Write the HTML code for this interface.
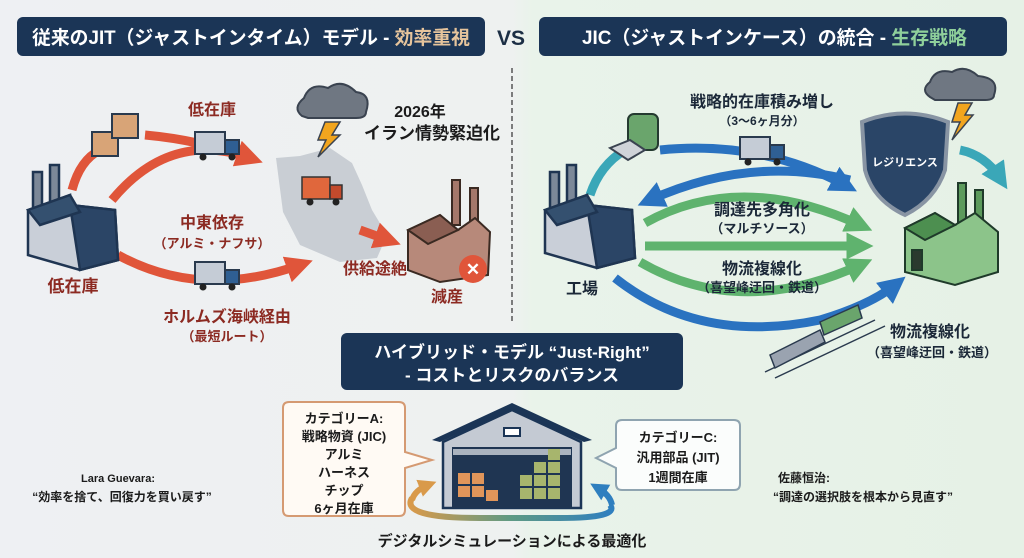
<!DOCTYPE html>
<html><head><meta charset="utf-8"><style>
html,body{margin:0;padding:0;width:1024px;height:558px;overflow:hidden;background:#eef0f2}
svg{display:block}
text{font-family:"Liberation Sans","Noto Sans CJK JP",sans-serif;font-weight:bold}
</style></head><body>
<svg width="1024" height="558" viewBox="0 0 1024 558" xmlns="http://www.w3.org/2000/svg">
<defs>
<linearGradient id="bg" x1="0" x2="1"><stop offset="0" stop-color="#eef0f3"/><stop offset="0.5" stop-color="#eef1f0"/><stop offset="0.52" stop-color="#e9f3ea"/><stop offset="1" stop-color="#e6f1e6"/></linearGradient>
<linearGradient id="loop" x1="0" x2="1"><stop offset="0" stop-color="#d99a4a"/><stop offset="0.5" stop-color="#5f9a84"/><stop offset="1" stop-color="#2f7fbf"/></linearGradient>
<marker id="ar" viewBox="0 0 10 10" refX="5" refY="5" markerWidth="3" markerHeight="3" orient="auto"><path d="M0,0L10,5L0,10z" fill="#e0553a"/></marker>
<marker id="ab" viewBox="0 0 10 10" refX="5" refY="5" markerWidth="3" markerHeight="3" orient="auto"><path d="M0,0L10,5L0,10z" fill="#2a72c0"/></marker>
<marker id="ag" viewBox="0 0 10 10" refX="5" refY="5" markerWidth="3" markerHeight="3" orient="auto"><path d="M0,0L10,5L0,10z" fill="#5fb36e"/></marker>
<marker id="at" viewBox="0 0 10 10" refX="5" refY="5" markerWidth="3" markerHeight="3" orient="auto"><path d="M0,0L10,5L0,10z" fill="#3aa7b8"/></marker>
<marker id="lo" viewBox="0 0 10 10" refX="5" refY="5" markerWidth="3" markerHeight="3" orient="auto"><path d="M0,0L10,5L0,10z" fill="#d99a4a"/></marker>
<marker id="lb" viewBox="0 0 10 10" refX="5" refY="5" markerWidth="3" markerHeight="3" orient="auto"><path d="M0,0L10,5L0,10z" fill="#2f7fbf"/></marker>
</defs>
<rect width="1024" height="558" fill="url(#bg)"/>
<line x1="512" y1="68" x2="512" y2="322" stroke="#555" stroke-width="1.5" stroke-dasharray="5,3"/>

<!-- titles -->
<rect x="17" y="17" width="468" height="39" rx="6" fill="#1b3556"/>
<text x="32" y="44" font-size="19" fill="#fff" textLength="438" lengthAdjust="spacingAndGlyphs">従来のJIT（ジャストインタイム）モデル - <tspan fill="#e6c49c">効率重視</tspan></text>
<text x="497" y="45" font-size="21" fill="#1b2e44">VS</text>
<rect x="539" y="17" width="468" height="39" rx="6" fill="#1b3556"/>
<text x="582" y="44" font-size="19" fill="#fff" textLength="385" lengthAdjust="spacingAndGlyphs">JIC（ジャストインケース）の統合 - <tspan fill="#8fd09b">生存戦略</tspan></text>

<!-- LEFT side -->
<path d="M276,158 L300,156 L330,148 L352,163 L362,185 L372,210 L387,235 L377,258 L340,262 L300,245 L283,212 Z" fill="#c9ced4"/>
<g fill="none" stroke="#e0553a" stroke-width="9">
<path d="M72,190 Q80,160 100,150"/>
<path d="M112,200 Q170,130 250,158" marker-end="url(#ar)"/>
<path d="M145,135 Q200,140 250,158"/>
<path d="M118,255 Q200,300 300,265" marker-end="url(#ar)"/>
<path d="M360,230 L388,240" marker-end="url(#ar)"/>
</g>
<!-- boxes -->
<rect x="92" y="132" width="26" height="24" fill="#d8a477" stroke="#2a3a4e" stroke-width="2"/>
<rect x="112" y="114" width="26" height="24" fill="#d8a477" stroke="#2a3a4e" stroke-width="2"/>
<!-- factory left -->
<g stroke="#1f3552" stroke-width="2.5">
<rect x="33" y="172" width="9" height="40" fill="#7c8898"/><rect x="50" y="165" width="9" height="45" fill="#7c8898"/>
<polygon points="28,210 70,195 70,205 115,210 118,260 80,270 28,255" fill="#c9cfd8"/>
<polygon points="70,205 115,210 118,260 80,270" fill="#2b4566"/>
<polygon points="28,210 70,195 80,212 40,225" fill="#34506f"/>
</g>
<text x="73" y="292" font-size="17" fill="#8c2a22" text-anchor="middle">低在庫</text>
<!-- trucks -->
<g><rect x="195" y="132" width="30" height="22" fill="#c5ccd6" stroke="#2a3a4e" stroke-width="2"/><rect x="225" y="140" width="14" height="14" fill="#2f5f93" stroke="#2a3a4e" stroke-width="2"/><circle cx="203" cy="157" r="3.5" fill="#222"/><circle cx="232" cy="157" r="3.5" fill="#222"/></g>
<g><rect x="195" y="262" width="30" height="22" fill="#c5ccd6" stroke="#2a3a4e" stroke-width="2"/><rect x="225" y="270" width="14" height="14" fill="#2f5f93" stroke="#2a3a4e" stroke-width="2"/><circle cx="203" cy="287" r="3.5" fill="#222"/><circle cx="232" cy="287" r="3.5" fill="#222"/></g>
<text x="212" y="115" font-size="16" fill="#8c2a22" text-anchor="middle">低在庫</text>
<text x="212" y="228" font-size="16" fill="#8c2a22" text-anchor="middle">中東依存</text>
<text x="212" y="248" font-size="13" fill="#8c2a22" text-anchor="middle">（アルミ・ナフサ）</text>
<text x="227" y="322" font-size="16" fill="#8c2a22" text-anchor="middle">ホルムズ海峡経由</text>
<text x="227" y="341" font-size="13" fill="#8c2a22" text-anchor="middle">（最短ルート）</text>
<rect x="302" y="177" width="28" height="22" fill="#e0673c" stroke="#333" stroke-width="1.5"/><rect x="330" y="185" width="12" height="14" fill="#c34a2c" stroke="#333" stroke-width="1.5"/>
<circle cx="310" cy="202" r="3.5" fill="#222"/><circle cx="336" cy="202" r="3.5" fill="#222"/>
<!-- cloud -->
<path d="M302,116 Q292,108 304,98 Q310,82 328,88 Q342,78 356,92 Q372,94 366,112 Q366,118 356,118 L308,118 Z" fill="#6f7782" stroke="#3a4350" stroke-width="2"/>
<polygon points="325,122 340,122 332,135 340,135 318,157 326,140 318,140" fill="#f2a51e" stroke="#3a4350" stroke-width="1.5"/>
<text x="420" y="117" font-size="16" fill="#1b1b1b" text-anchor="middle">2026年</text>
<text x="432" y="139" font-size="17" fill="#1b1b1b" text-anchor="middle">イラン情勢緊迫化</text>
<!-- brown factory -->
<g stroke="#3a2a22" stroke-width="2">
<rect x="452" y="180" width="8" height="45" fill="#a5786a"/><rect x="470" y="188" width="8" height="40" fill="#a5786a"/>
<polygon points="408,230 440,215 458,230 475,218 490,232 488,275 440,282 408,270" fill="#b7897a"/>
<polygon points="408,230 440,215 458,230 428,244" fill="#8a5e52"/>
</g>
<circle cx="473" cy="269" r="14" fill="#e0553a"/>
<text x="473" y="275" font-size="17" fill="#fff" text-anchor="middle" font-weight="normal">✕</text>
<text x="375" y="274" font-size="16" fill="#8c2a22" text-anchor="middle">供給途絶</text>
<text x="447" y="302" font-size="16" fill="#8c2a22" text-anchor="middle">減産</text>

<!-- RIGHT side -->
<g fill="none" stroke-width="9">
<path d="M590,195 Q600,165 625,150" stroke="#3aa7b8"/>
<path d="M660,150 Q760,140 845,185" stroke="#2a72c0" marker-end="url(#ab)"/>
<path d="M850,180 Q750,155 650,200" stroke="#2a72c0" marker-end="url(#ab)"/>
<path d="M645,223 Q740,170 860,225" stroke="#5fb36e" marker-end="url(#ag)"/>
<path d="M645,246 L860,246" stroke="#5fb36e" marker-end="url(#ag)"/>
<path d="M640,262 Q740,320 860,265" stroke="#5fb36e" marker-end="url(#ag)"/>
<path d="M615,278 Q700,345 820,320 Q870,305 895,285" stroke="#2a72c0" marker-end="url(#ab)"/>
<path d="M960,150 Q985,155 1000,178" stroke="#3aa7b8" marker-end="url(#at)"/>
</g>
<rect x="628" y="114" width="30" height="36" rx="6" fill="#6aa56c" stroke="#243a30" stroke-width="2"/>
<polygon points="610,148 630,140 645,150 628,160" fill="#cfd3d8" stroke="#3a4350" stroke-width="2"/>
<g><rect x="740" y="137" width="30" height="22" fill="#c5ccd6" stroke="#2a3a4e" stroke-width="2"/><rect x="770" y="145" width="14" height="14" fill="#2f5f93" stroke="#2a3a4e" stroke-width="2"/><circle cx="748" cy="162" r="3.5" fill="#222"/><circle cx="777" cy="162" r="3.5" fill="#222"/></g>
<text x="762" y="107" font-size="16" fill="#1b2838" text-anchor="middle">戦略的在庫積み増し</text>
<text x="762" y="125" font-size="12" fill="#1b2838" text-anchor="middle">（3〜6ヶ月分）</text>
<text x="762" y="215" font-size="16" fill="#1b2838" text-anchor="middle">調達先多角化</text>
<text x="762" y="233" font-size="13" fill="#1b2838" text-anchor="middle">（マルチソース）</text>
<text x="762" y="274" font-size="16" fill="#1b2838" text-anchor="middle">物流複線化</text>
<text x="762" y="292" font-size="13" fill="#1b2838" text-anchor="middle">（喜望峰迂回・鉄道）</text>
<g stroke="#1f3552" stroke-width="2.5">
<rect x="550" y="172" width="9" height="40" fill="#7c8898"/><rect x="567" y="165" width="9" height="45" fill="#7c8898"/>
<polygon points="545,210 587,195 587,205 632,210 635,258 597,268 545,253" fill="#c9cfd8"/>
<polygon points="587,205 632,210 635,258 597,268" fill="#2b4566"/>
<polygon points="545,210 587,195 597,212 557,225" fill="#34506f"/>
</g>
<text x="582" y="294" font-size="16" fill="#1b2838" text-anchor="middle">工場</text>
<g stroke="#2a3a4e" stroke-width="1.5">
<line x1="765" y1="372" x2="875" y2="320"/><line x1="775" y1="378" x2="885" y2="326"/>
<polygon points="770,355 820,330 825,342 775,368" fill="#9aa3b0"/>
<polygon points="820,322 858,305 862,318 824,335" fill="#6aa56c"/>
</g>
<text x="930" y="337" font-size="16" fill="#1b2838" text-anchor="middle">物流複線化</text>
<text x="932" y="357" font-size="13" fill="#1b2838" text-anchor="middle">（喜望峰迂回・鉄道）</text>
<path d="M862,122 Q905,105 948,122 L945,170 Q935,200 905,215 Q873,200 865,170 Z" fill="#2a4567" stroke="#8894a3" stroke-width="4"/>
<text x="905" y="166" font-size="11" fill="#fff" text-anchor="middle" font-weight="normal">レジリエンス</text>
<path d="M930,97 Q920,90 930,82 Q935,68 952,72 Q965,64 978,76 Q1000,78 994,95 Q994,100 985,100 L935,100 Z" fill="#6f7782" stroke="#3a4350" stroke-width="2"/>
<polygon points="958,103 972,103 965,115 973,115 952,140 960,122 952,122" fill="#f2a51e" stroke="#3a4350" stroke-width="1.5"/>
<g stroke="#1f3a2a" stroke-width="2">
<rect x="958" y="183" width="8" height="42" fill="#5c9a5c"/><rect x="975" y="190" width="8" height="38" fill="#5c9a5c"/>
<polygon points="905,228 935,213 955,225 975,213 998,232 998,272 955,285 905,272" fill="#8cc48a"/>
<polygon points="905,228 935,213 955,225 925,240" fill="#4d8f50"/>
<rect x="912" y="250" width="10" height="20" fill="#2a3a2e"/>
</g>

<!-- BOTTOM -->
<rect x="341" y="333" width="342" height="57" rx="6" fill="#1b3556"/>
<text x="512" y="358" font-size="17" fill="#fff" text-anchor="middle">ハイブリッド・モデル “Just-Right”</text>
<text x="512" y="381" font-size="17" fill="#fff" text-anchor="middle">- コストとリスクのバランス</text>

<path d="M289,402 L399,402 Q405,402 405,408 L405,452 L432,460 L405,468 L405,510 Q405,516 399,516 L289,516 Q283,516 283,510 L283,408 Q283,402 289,402 Z" fill="#fffaf4" stroke="#d59a72" stroke-width="2"/>
<g font-size="13" fill="#1b1b1b" text-anchor="middle">
<text x="344" y="423">カテゴリーA:</text>
<text x="344" y="441">戦略物資 (JIC)</text>
<text x="344" y="459">アルミ</text>
<text x="344" y="477">ハーネス</text>
<text x="344" y="495">チップ</text>
<text x="344" y="513">6ヶ月在庫</text>
</g>
<path d="M622,420 L734,420 Q740,420 740,426 L740,484 Q740,490 734,490 L622,490 Q616,490 616,484 L616,468 L596,458 L616,448 L616,426 Q616,420 622,420 Z" fill="#fbfdfc" stroke="#8fa4b0" stroke-width="2"/>
<g font-size="13" fill="#1b1b1b" text-anchor="middle">
<text x="678" y="442">カテゴリーC:</text>
<text x="678" y="462">汎用部品 (JIT)</text>
<text x="678" y="482">1週間在庫</text>
</g>
<polygon points="432,440 512,403 592,440 584,442 512,410 440,442" fill="#1b3556"/>
<polygon points="443,442 512,410 581,442 581,508 443,508" fill="#c4cad3" stroke="#1b3556" stroke-width="2.5"/>
<rect x="504" y="428" width="16" height="8" fill="#fff" stroke="#1b3556" stroke-width="2"/>
<rect x="452" y="447" width="120" height="61" fill="#1f3552"/>
<rect x="453" y="449" width="118" height="6" fill="#aab3bf"/>
<g fill="#e0955a"><rect x="458" y="473" width="12" height="11"/><rect x="472" y="473" width="12" height="11"/><rect x="458" y="486" width="12" height="11"/><rect x="472" y="486" width="12" height="11"/><rect x="486" y="490" width="12" height="11"/></g>
<g fill="#a7b56d"><rect x="520" y="475" width="12" height="11"/><rect x="534" y="475" width="12" height="11"/><rect x="548" y="475" width="12" height="11"/><rect x="520" y="488" width="12" height="11"/><rect x="534" y="488" width="12" height="11"/><rect x="548" y="488" width="12" height="11"/><rect x="534" y="462" width="12" height="11"/><rect x="548" y="462" width="12" height="11"/><rect x="548" y="449" width="12" height="11"/></g>
<path d="M412,498 Q400,518 480,518 L560,518 Q620,518 610,505" fill="none" stroke="url(#loop)" stroke-width="6"/>
<path d="M412,500 Q415,490 428,485" fill="none" stroke="#d99a4a" stroke-width="6" marker-end="url(#lo)"/>
<path d="M612,505 Q610,495 598,488" fill="none" stroke="#2f7fbf" stroke-width="6" marker-end="url(#lb)"/>
<text x="512" y="546" font-size="15" fill="#1b1b1b" text-anchor="middle">デジタルシミュレーションによる最適化</text>

<text x="118" y="482" font-size="11" fill="#1b1b1b" text-anchor="middle">Lara Guevara:</text>
<text x="122" y="501" font-size="12" fill="#1b1b1b" text-anchor="middle" font-weight="normal">“効率を捨て、回復力を買い戻す”</text>
<text x="778" y="482" font-size="12" fill="#1b1b1b">佐藤恒治:</text>
<text x="863" y="501" font-size="12" fill="#1b1b1b" text-anchor="middle" font-weight="normal">“調達の選択肢を根本から見直す”</text>
</svg>
</body></html>
